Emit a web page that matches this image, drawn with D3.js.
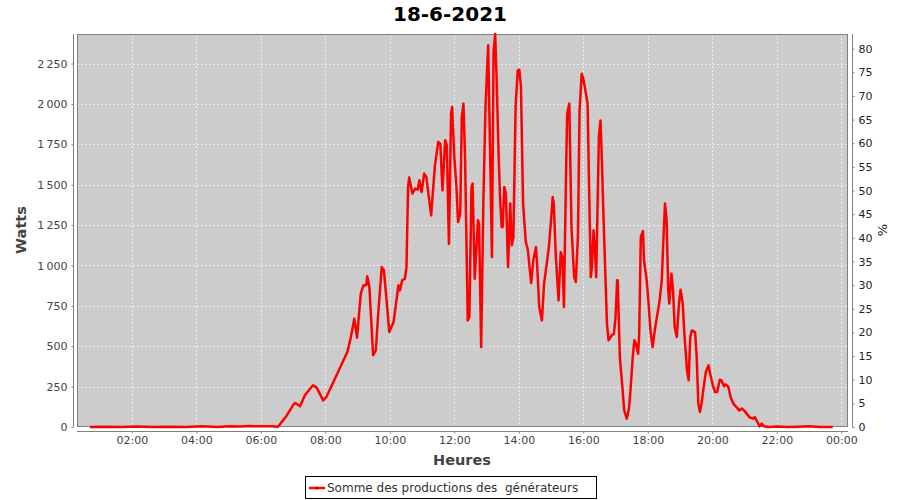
<!DOCTYPE html>
<html>
<head>
<meta charset="utf-8">
<script src="https://cdn.jsdelivr.net/npm/d3@7"></script>
<style>
  html, body { margin: 0; padding: 0; background: #ffffff; }
  svg { display: block; font-family: "DejaVu Sans", sans-serif; }
</style>
</head>
<body>
<svg id="chart" width="900" height="500"></svg>
<script>
const titleText = "18-6-2021";
const seriesName = "Somme des productions des  générateurs";
const leftAxisLabel = "Watts";
const rightAxisLabel = "%";
const xAxisLabel = "Heures";

// Time of each sample (HH:MM) and produced power (W)
const times = [
  "00:42","01:10","01:40","02:10","02:40","03:10","03:40","04:10","04:40","05:00","05:20","05:40","06:00","06:20","06:32",
  "06:48","07:01","07:04","07:13","07:22","07:37","07:44","07:56","08:02","08:15","08:28","08:41","08:47","08:54","08:59",
  "09:06","09:11","09:16","09:18","09:22","09:29","09:34","09:38","09:45","09:49","09:54","09:59","10:07","10:16","10:19",
  "10:23","10:28","10:31","10:34","10:36","10:42","10:47","10:52","10:55","10:59","11:04","11:08","11:11","11:17","11:19",
  "11:24","11:30","11:34","11:38","11:43","11:46","11:50","11:54","11:56","12:00","12:04","12:07","12:11","12:14","12:17",
  "12:20","12:25","12:28","12:32","12:34","12:38","12:44","12:46","12:50","12:54","12:58","13:03","13:07","13:10","13:13",
  "13:16","13:19","13:22","13:25","13:28","13:30","13:33","13:36","13:40","13:44","13:47","13:50","13:54","13:58","14:01",
  "14:04","14:08","14:13","14:17","14:20","14:23","14:27","14:32","14:34","14:38","14:43","14:47","14:52","14:56","15:00",
  "15:03","15:05","15:09","15:14","15:18","15:21","15:24","15:28","15:30","15:34","15:38","15:43","15:46","15:50","15:53",
  "15:57","16:00","16:05","16:08","16:11","16:14","16:16","16:19","16:22","16:24","16:29","16:32","16:34","16:38","16:44",
  "16:47","16:53","16:57","17:00","17:03","17:04","17:08","17:13","17:16","17:21","17:25","17:28","17:32","17:35","17:38",
  "17:42","17:44","17:47","17:51","17:53","17:58","18:01","18:05","18:09","18:13","18:17","18:22","18:26","18:29","18:32",
  "18:35","18:38","18:40","18:44","18:47","18:50","18:54","18:58","19:01","19:05","19:08","19:13","19:16","19:19","19:22",
  "19:28","19:31","19:34","19:37","19:40","19:44","19:48","19:53","19:56","20:01","20:05","20:09","20:14","20:17","20:22",
  "20:25","20:30","20:34","20:39","20:46","20:50","20:55","20:59","21:04","21:10","21:16","21:19","21:24","21:28","21:32",
  "21:36","21:45","22:00","22:20","22:40","23:00","23:20","23:44"
];
const watts = [
  0,2,0,3,0,2,0,4,0,5,3,6,4,5,2,
  70,140,149,128,196,258,244,165,186,279,371,464,547,671,553,
  826,877,877,933,867,444,475,681,990,970,784,588,650,877,846,
  908,918,990,1486,1544,1445,1476,1470,1527,1455,1569,1548,1465,1310,1403,
  1620,1764,1754,1465,1775,1744,1135,1940,1981,1671,1486,1269,1321,1919,2002,
  1671,660,681,1486,1507,918,1280,1259,495,1383,1981,2363,1630,1052,2321,
  2433,2126,1733,1424,1238,1238,1486,1445,990,1383,1125,1176,1981,2208,2212,
  2105,1383,1145,1094,990,890,1032,1114,1011,743,660,887,1011,1114,1280,
  1424,1383,1052,784,1083,1052,743,1589,1940,2002,1238,928,898,1176,1960,
  2187,2156,2063,2002,1445,928,990,1217,1073,928,1795,1898,1713,1259,640,
  537,568,578,681,908,908,433,238,103,52,114,238,433,537,516,
  454,578,1176,1213,1032,908,784,598,495,598,681,784,908,1155,1383,
  1280,846,764,949,846,619,557,764,850,764,578,351,289,557,598,
  588,433,145,93,145,248,340,382,330,258,217,217,293,289,252,
  264,248,186,145,120,103,114,103,83,58,52,62,31,4,21,
  4,0,3,0,2,5,0,0
];

const wattTicks = [0,250,500,750,1000,1250,1500,1750,2000,2250];
const percentTicks = [0,5,10,15,20,25,30,35,40,45,50,55,60,65,70,75,80];
const hourTicks = [2,4,6,8,10,12,14,16,18,20,22,24];

const wattMax = 2433;
const percentMax = 83.1;

const svg = d3.select("#chart");
const plot = { left: 77, right: 848, top: 34, bottom: 427 };

const toDate = s => { const [h, m] = s.split(":").map(Number); return new Date(2021, 5, 18, h, m); };
const data = times.map((t, i) => ({ t: toDate(t), v: watts[i] }));

const x = d3.scaleTime()
  .domain([new Date(2021, 5, 18, 0, 18), new Date(2021, 5, 19, 0, 12, 30)])
  .range([plot.left, plot.right]);
const y = d3.scaleLinear().domain([0, wattMax]).range([plot.bottom, plot.top]);
const y2 = d3.scaleLinear().domain([0, percentMax]).range([plot.bottom, plot.top]);

// title
svg.append("text").attr("x", 450).attr("y", 21).attr("text-anchor", "middle")
  .attr("font-size", 20).attr("font-weight", "bold").attr("fill", "#000").text(titleText);

// plot background
svg.append("rect").attr("x", plot.left).attr("y", plot.top)
  .attr("width", plot.right - plot.left).attr("height", plot.bottom - plot.top)
  .attr("fill", "#cccccc");

// grid lines
const hourDates = hourTicks.map(h => new Date(2021, 5, 18, h, 0));
svg.append("g").selectAll("line").data(wattTicks.slice(1)).join("line")
  .attr("x1", plot.left).attr("x2", plot.right)
  .attr("y1", d => Math.round(y(d)) + 0.5).attr("y2", d => Math.round(y(d)) + 0.5)
  .attr("stroke", "#f4f4f4").attr("stroke-width", 0.8).attr("stroke-dasharray", "2,2");
svg.append("g").selectAll("line").data(hourDates).join("line")
  .attr("x1", d => Math.round(x(d)) + 0.5).attr("x2", d => Math.round(x(d)) + 0.5)
  .attr("y1", plot.top).attr("y2", plot.bottom)
  .attr("stroke", "#f4f4f4").attr("stroke-width", 0.8).attr("stroke-dasharray", "2,2");

// plot border
svg.append("rect").attr("x", plot.left + 0.5).attr("y", plot.top + 0.5)
  .attr("width", plot.right - plot.left - 1).attr("height", plot.bottom - plot.top - 1)
  .attr("fill", "none").attr("stroke", "#808080").attr("stroke-width", 1);

// data line (drawn over the border, as in the original)
const line = d3.line().x(d => x(d.t)).y(d => y(d.v));
svg.append("path").datum(data)
  .attr("d", line).attr("fill", "none").attr("stroke", "#ff0000")
  .attr("stroke-width", 2.5).attr("stroke-linejoin", "round");

// axes
const axisColor = "#808080";
const tickTextColor = "#444";

const leftAxis = svg.append("g").attr("transform", "translate(73.5,0)")
  .call(d3.axisLeft(y).tickValues(wattTicks).tickSize(2).tickPadding(4)
    .tickFormat(d => d3.format(",")(d).replace(",", "\u2009")));
const rightAxis = svg.append("g").attr("transform", "translate(852.5,0)")
  .call(d3.axisRight(y2).tickValues(percentTicks).tickSize(2).tickPadding(4));
const bottomAxis = svg.append("g").attr("transform", "translate(0,431.5)")
  .call(d3.axisBottom(x).tickValues(hourDates).tickSize(2).tickPadding(3)
    .tickFormat(d3.timeFormat("%H:%M")));

[leftAxis, rightAxis, bottomAxis].forEach(g => {
  g.select(".domain").attr("stroke", axisColor);
  g.selectAll(".tick line").attr("stroke", axisColor);
  g.selectAll(".tick text").attr("fill", tickTextColor).attr("font-size", 11)
    .attr("font-family", "DejaVu Sans, sans-serif");
});
leftAxis.select(".domain").attr("d", `M0,${plot.top}V${plot.bottom}`);
rightAxis.select(".domain").attr("d", `M0,${plot.top}V${plot.bottom}`);
bottomAxis.select(".domain").attr("d", `M${plot.left},0H${plot.right}`);
rightAxis.selectAll(".tick text").attr("fill", "#222");

// axis labels
svg.append("text").attr("transform", "translate(26,230) rotate(-90)")
  .attr("text-anchor", "middle").attr("font-size", 14.5).attr("font-weight", "bold")
  .attr("fill", "#444").text(leftAxisLabel);
svg.append("text").attr("transform", "translate(887,230) rotate(-90)")
  .attr("text-anchor", "middle").attr("font-size", 13)
  .attr("fill", "#222").text(rightAxisLabel);
svg.append("text").attr("x", 462).attr("y", 465).attr("text-anchor", "middle")
  .attr("font-size", 14.5).attr("font-weight", "bold").attr("fill", "#444").text(xAxisLabel);

// legend
const lg = svg.append("g");
lg.append("rect").attr("x", 305.5).attr("y", 476.5).attr("width", 291).attr("height", 22)
  .attr("fill", "#fff").attr("stroke", "#000").attr("stroke-width", 1);
lg.append("line").attr("x1", 309).attr("x2", 325).attr("y1", 488).attr("y2", 488)
  .attr("stroke", "#ff0000").attr("stroke-width", 2.5);
lg.append("circle").attr("cx", 317).attr("cy", 488).attr("r", 1.5).attr("fill", "#cc0000");
lg.append("text").attr("x", 327).attr("y", 492).attr("font-size", 12).attr("fill", "#333")
  .style("white-space", "pre").text(seriesName);
</script>
</body>
</html>
